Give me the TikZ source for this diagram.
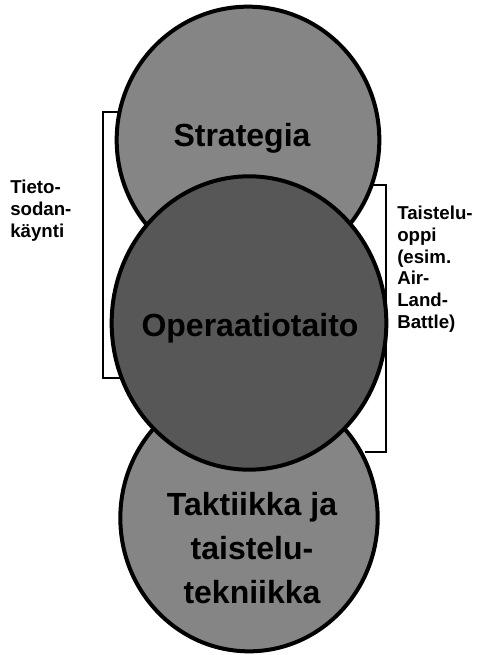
\documentclass[tikz,border=0pt]{standalone}
\usepackage{fontspec}
\setmainfont{Liberation Sans}
\usetikzlibrary{shapes.geometric,positioning}

\begin{document}
\begin{tikzpicture}[x=0.75pt, y=-0.75pt,
    disc/.style={ellipse, draw=black, line width=3pt, inner sep=0pt},
    lightdisc/.style={disc, fill=black!48},
    darkdisc/.style={disc, fill=black!66},
    bigtext/.style={font=\fontsize{24}{33}\selectfont\bfseries, align=center, inner sep=0pt},
    sidetext/.style={font=\fontsize{14}{16.3}\selectfont\bfseries, align=left, anchor=north west, inner sep=0pt},
    bracket/.style={draw=black, line width=0.8pt}]
  \useasboundingbox (0,0) rectangle (481,655);
  % brackets (behind the discs)
  \coordinate (lt) at (125,112);
  \coordinate (lb) at (125,378);
  \coordinate (rt) at (365,185);
  \coordinate (rb) at (365,452);
  \draw[bracket] (lt) -- (103,112) -- (103,378) -- (lb);
  \draw[bracket] (rt) -- (386,185) -- (386,452) -- (rb);
  % the three levels
  \node[lightdisc, minimum width=197pt, minimum height=200pt] (strat) at (248,140) {};
  \node[lightdisc, minimum width=193pt, minimum height=200pt] (takt) at (249,518) {};
  \node[darkdisc, minimum width=206pt, minimum height=220pt] (oper) at (249,323) {};
  % level names
  \node[bigtext] (stratlbl) at (242,138) {Strategia};
  \node[bigtext] (operlbl) at (250,328) {Operaatiotaito};
  \node[bigtext] (taktlbl) at (252,548) {Taktiikka ja\\taistelu-\\tekniikka};
  % side notes
  \node[sidetext] (tieto) at (10,180) {Tieto-\\sodan-\\käynti};
  \node[sidetext] (oppi) at (397,206) {Taistelu-\\oppi\\(esim.\\Air-\\Land-\\Battle)};
\end{tikzpicture}
\end{document}
